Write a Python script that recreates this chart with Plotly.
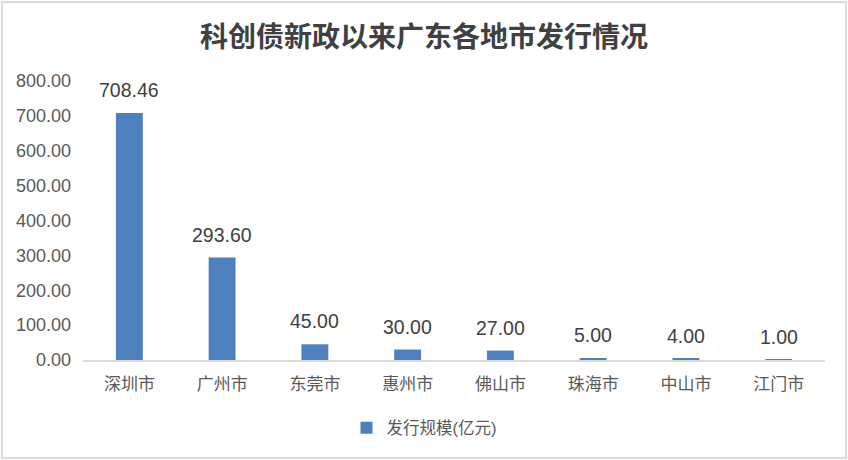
import plotly.graph_objects as go

cities = ["深圳市", "广州市", "东莞市", "惠州市", "佛山市", "珠海市", "中山市", "江门市"]
issue_size = [708.46, 293.60, 45.00, 30.00, 27.00, 5.00, 4.00, 1.00]

y_ticks = [0, 100, 200, 300, 400, 500, 600, 700, 800]

FONT = "Arial, 'Noto Sans CJK SC', sans-serif"
BLUE = "#4e80bd"

fig = go.Figure()
fig.add_trace(go.Bar(
    x=cities,
    y=issue_size,
    name="发行规模(亿元)",
    marker=dict(color=BLUE, line=dict(width=0)),
    width=0.29,
))

# value labels above the bars
for c, v in zip(cities, issue_size):
    fig.add_annotation(
        x=c, y=v, text=f"{v:.2f}", showarrow=False,
        yanchor="bottom", yshift=10,
        font=dict(family=FONT, size=19.5, color="#404040"),
    )

# outer frame of the chart
fig.add_shape(
    type="rect", xref="paper", yref="paper",
    x0=-0.1092, x1=1.0283, y0=-0.3513, y1=1.2832,
    line=dict(color="#d9d9d9", width=2), layer="below",
)

fig.update_layout(
    width=848, height=460,
    paper_bgcolor="white", plot_bgcolor="white",
    margin=dict(l=83, r=23, t=81, b=100, autoexpand=False),
    title=dict(
        text="<b>科创债新政以来广东各地市发行情况</b>",
        x=0.5, xref="container", xanchor="center", y=0.92, yanchor="middle",
        font=dict(family=FONT, size=28, color="#404040"),
    ),
    font=dict(family=FONT, color="#595959"),
    showlegend=True,
    legend=dict(
        orientation="h", xref="container", x=0.5, xanchor="center",
        y=-0.244, yanchor="middle",
        font=dict(family=FONT, size=16.5, color="#595959"),
    ),
    xaxis=dict(
        showgrid=False, showline=True, linecolor="#d9d9d9", linewidth=2,
        ticks="", tickfont=dict(family=FONT, size=17, color="#595959"),
        ticklabelstandoff=8, automargin=False,
    ),
    yaxis=dict(
        range=[0, 800], tickvals=y_ticks, tickformat=".2f",
        showgrid=False, showline=False, zeroline=False, ticks="",
        tickfont=dict(family=FONT, size=18, color="#595959"),
        ticklabelstandoff=11, automargin=False,
    ),
)

# drop the default page margin so the chart sits flush in the window
fig.write_html(
    "out.html",
    config={"displayModeBar": False},
    post_script="document.body.style.margin='0';",
)
